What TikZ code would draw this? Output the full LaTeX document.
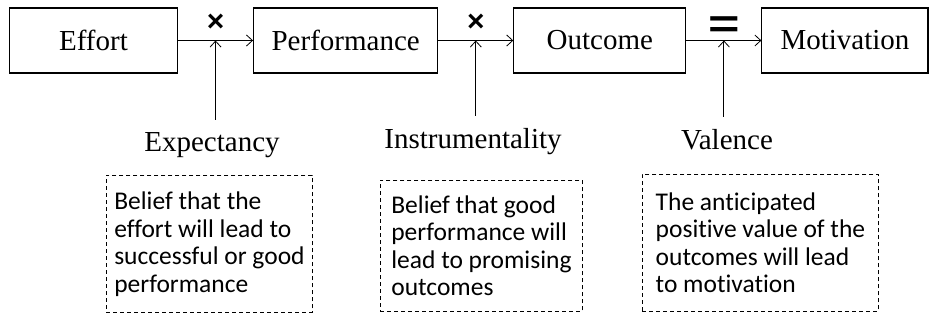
\documentclass[tikz,border=0pt]{standalone}
\usepackage{fontspec}
\setmainfont{Liberation Serif}
\setsansfont{Liberation Sans}
\newfontfamily\descfont[Ligatures=CommonOff]{Carlito}
\usetikzlibrary{calc,positioning,arrows.meta}

\begin{document}
\begin{tikzpicture}[x=1pt,y=1pt,
      stagebox/.style={
         draw=black,
         line width=1.1pt,
         minimum width=168pt,
         minimum height=65pt,
         inner xsep=18pt,
         font=\fontsize{29}{34}\selectfont},
      factor/.style={
         inner sep=3pt,
         font=\fontsize{29}{34}\selectfont},
      descbox/.style={
         draw=black,
         dashed,
         dash pattern=on 4pt off 3pt,
         line width=0.9pt,
         align=left,
         minimum height=137pt,
         font=\descfont\fontsize{25.5}{27.5}\selectfont},
      opsign/.style={
         inner sep=0pt,
         font=\sffamily\bfseries\fontsize{30}{30}\selectfont},
      myarrow/.style={-{Straight Barb[length=6pt,width=11pt]}, line width=0.8pt},
      node distance=75pt
      ]
      \useasboundingbox (0,0) rectangle (930,-322);

      % the chain along the top
      \node[stagebox] (effort) at (93.5,-40.5) {Effort};
      \node[stagebox,right=of effort] (perf) {Performance};
      \node[stagebox,right=of perf,minimum width=172pt] (outcome) {Outcome};
      \node[stagebox,right=of outcome,minimum width=166pt] (motiv) {Motivation};

      % meeting points on the arrows
      \coordinate (m1) at ($(effort.east)!0.5!(perf.west)$);
      \coordinate (m2) at ($(perf.east)!0.5!(outcome.west)$);
      \coordinate (m3) at ($(outcome.east)!0.5!(motiv.west)$);

      \node[opsign,above=9pt of m1] (op1) {×};
      \node[opsign,above=9pt of m2] (op2) {×};
      \node[opsign,above=3pt of m3,font=\sffamily\bfseries\fontsize{40}{40}\selectfont] (op3) {\scalebox{1.35}[1]{=}};

      % the three factors
      \node[factor,anchor=base] (expect) at (212,-151) {Expectancy};
      \node[factor,anchor=base] (instr) at (473,-148) {Instrumentality};
      \node[factor,anchor=base] (valence) at (727,-149) {Valence};

      \node[descbox,minimum width=206pt,anchor=north west] (expdesc) at (106,-175)
         {Belief that the\\effort will lead to\\successful or good\\performance};
      \node[descbox,minimum width=202pt,minimum height=131pt,anchor=north west] (instrdesc) at (380,-180)
         {Belief that good\\performance will\\lead to promising\\outcomes};
      \node[descbox,minimum width=236pt,anchor=north west] (valdesc) at (642,-174)
         {The anticipated\\positive value of the\\outcomes will lead\\to motivation};

    \foreach \i/\j in {effort/perf, perf/outcome, outcome/motiv}
       \draw [myarrow] (\i) -- (\j);

    \foreach \i/\j in {expect/m1, instr/m2, valence/m3}
       \draw [myarrow, shorten <=9pt] (\j |- \i.north) -- (\j);
\end{tikzpicture}
\end{document}
